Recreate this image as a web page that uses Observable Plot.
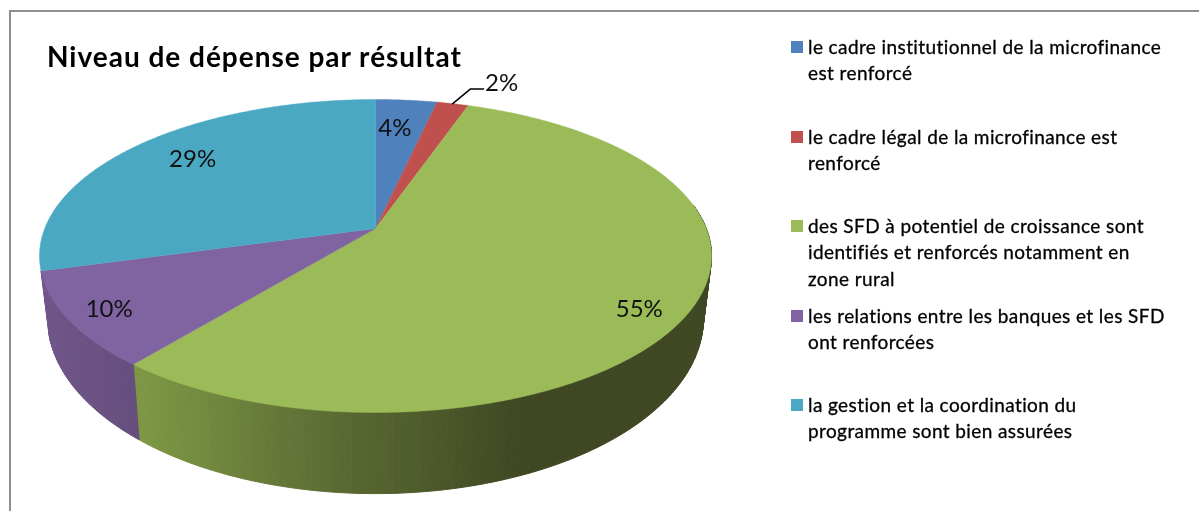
<!DOCTYPE html>
<html lang="fr">
<head>
<meta charset="utf-8">
<script src="https://cdn.jsdelivr.net/npm/d3@7"></script>
<script src="https://cdn.jsdelivr.net/npm/@observablehq/plot@0.6"></script>
<style>
  html, body { margin: 0; background: #fff; }
  #page { position: relative; width: 1199px; height: 511px; overflow: hidden; font-family: Lato, "Open Sans", sans-serif; color: #000; filter: blur(0.4px); }
  #page svg { position: absolute; left: 0; top: 0; }
  #edge { position: absolute; left: 9px; top: 10px; right: -5px; bottom: -5px; border: 2px solid #8e8e8e; }
  #title { position: absolute; left: 47px; top: 38px; font-size: 28px; font-weight: 700; letter-spacing: 0.98px; white-space: nowrap; line-height: 36px; }
  .entry { position: absolute; left: 790px; width: 405px; padding-left: 18px; font-size: 19px; letter-spacing: 0.4px; line-height: 26.4px; white-space: pre; box-sizing: border-box; -webkit-text-stroke: 0.3px #000; }
  .entry i { position: absolute; left: 1px; top: 7px; width: 12px; height: 12px; }
</style>
</head>
<body>
<div id="page">
  <div id="edge"></div>
  <div id="plot"></div>
  <div id="title"></div>
  <div id="legend"></div>
</div>
<script>
const chartTitle = "Niveau de dépense par résultat";
const outcomes = [
  "le cadre institutionnel de la microfinance\nest renforcé",
  "le cadre légal de la microfinance est\nrenforcé",
  "des SFD à potentiel de croissance sont\nidentifiés et renforcés notamment en\nzone rural",
  "les relations entre les banques et les SFD\nont renforcées",
  "la gestion et la coordination du\nprogramme sont bien assurées"
];
const shares = [3.5, 1.8, 55.6, 9.8, 29.3];
const shareLabels = ["4%", "2%", "55%", "10%", "29%"];
const colors = ["#4f81bd", "#c0504d", "#9bbb59", "#8064a2", "#4aa8c3"];
const legendTops = [34, 124, 213, 303, 392];

// Label placement along each slice's mid radius, plus small text nudges
const labelReach = [0.76, 1.2, 0.85, 0.88, 0.75];
const labelDx = [-5, 36, -1, 0, 0];
const labelDy = [1, 0, 13, 1, -5];

// Perspective model of the pie disc (pixels)
const cx = 375, cy = 228, rx = 330.8, ry = 151.7, tilt = 0.1757;
const baseScaleX = 0.976, baseScaleY = 1.12, baseY = 287;

function project(theta, reach = 1) {
  const u = Math.sin(theta) * reach, v = -Math.cos(theta) * reach, w = 1 - tilt * v;
  return [cx + rx * u / w, cy + ry * v / w];
}
function toBase([x, y]) {
  return [cx + baseScaleX * (x - cx), baseY + baseScaleY * (y - cy)];
}

const total = d3.sum(shares);
const slices = [];
let acc = 0;
shares.forEach((s, i) => {
  const a0 = acc / total * 2 * Math.PI;
  acc += s;
  const a1 = acc / total * 2 * Math.PI;
  slices.push({i, a0, a1, mid: (a0 + a1) / 2});
});

const STEP = Math.PI / 360;
function arcAngles(a0, a1, step = STEP) {
  const n = Math.max(1, Math.ceil((a1 - a0) / step));
  return d3.range(n + 1).map(k => a0 + (a1 - a0) * k / n);
}

// Top face polygons
const topPts = [];
slices.forEach(s => {
  topPts.push({id: s.i, x: cx, y: cy, c: colors[s.i]});
  arcAngles(s.a0, s.a1).forEach(t => {
    const [x, y] = project(t);
    topPts.push({id: s.i, x, y, c: colors[s.i]});
  });
  topPts.push({id: s.i, x: cx, y: cy, c: colors[s.i]});
});

// Side wall strips, shaded by horizontal position
const greenShade = d3.scaleLinear().domain([140, 330, 520]).range(["#7d9745", "#5c6c33", "#3f4823"]).clamp(true);
const purpleShade = d3.scaleLinear().domain([45, 140]).range(["#6f5588", "#654d7c"]).clamp(true);
const wallPts = [];
function addWall(slice, from, to, shade) {
  const angs = arcAngles(from, to, STEP * 2);
  for (let k = 0; k < angs.length - 1; k++) {
    const p0 = project(angs[k]), p1 = project(angs[k + 1]);
    const c = shade((p0[0] + p1[0]) / 2);
    const id = slice + "-" + k;
    [p0, p1, toBase(p1), toBase(p0), p0].forEach(([x, y]) => wallPts.push({id, x, y, c}));
  }
}
addWall(2, Math.max(slices[2].a0, Math.PI * 0.45), slices[2].a1, greenShade);
addWall(3, slices[3].a0, slices[3].a1, purpleShade);

// Percentage labels
const labels = slices.map(s => {
  const [x, y] = project(s.mid, labelReach[s.i]);
  return {x: x + labelDx[s.i], y: y + labelDy[s.i], text: shareLabels[s.i], i: s.i};
});

// Leader of the small slice label
const small = slices[1];
const edgePt = project(small.mid);
const lab = labels[1];
const leader = [
  {x: edgePt[0], y: edgePt[1]},
  {x: lab.x - 31, y: lab.y + 6},
  {x: lab.x - 18, y: lab.y + 6}
];

const chart = Plot.plot({
  width: 1199, height: 511,
  marginTop: 0, marginRight: 0, marginBottom: 0, marginLeft: 0,
  x: {domain: [0, 1199], range: [0, 1199], axis: null},
  y: {domain: [0, 511], range: [0, 511], axis: null},
  color: {type: "identity"},
  style: {background: "transparent", overflow: "visible"},
  marks: [
    Plot.line(wallPts, {x: "x", y: "y", z: "id", fill: "c", stroke: "c", strokeWidth: 1, curve: "linear"}),
    Plot.line(topPts, {x: "x", y: "y", z: "id", fill: "c", stroke: "c", strokeWidth: 0.4, curve: "linear"}),
    Plot.line(leader, {x: "x", y: "y", stroke: "#000", strokeWidth: 1.5, curve: "linear"}),
    Plot.text(labels, {x: "x", y: "y", text: "text", fontSize: 24, fontFamily: "Lato, sans-serif", fill: "#111"})
  ]
});
document.getElementById("plot").appendChild(chart);

document.getElementById("title").textContent = chartTitle;
const legend = document.getElementById("legend");
outcomes.forEach((name, i) => {
  const e = document.createElement("div");
  e.className = "entry";
  e.style.top = legendTops[i] + "px";
  e.textContent = name;
  const sw = document.createElement("i");
  sw.style.background = colors[i];
  e.appendChild(sw);
  legend.appendChild(e);
});
</script>
</body>
</html>
